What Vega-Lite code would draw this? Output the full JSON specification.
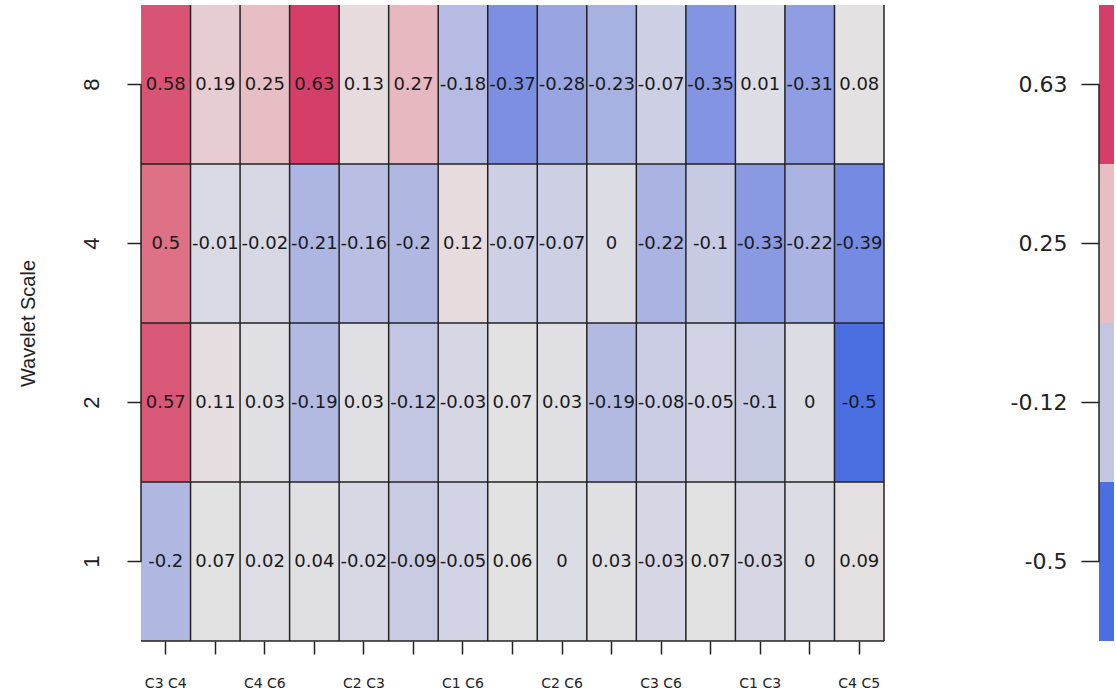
{
  "$schema": "https://vega.github.io/schema/vega-lite/v6.json",
  "autosize": {"type": "pad"},
  "padding": {"left": 18, "top": 4, "right": 0, "bottom": 0},
  "background": "white",
  "config": {"view": {"stroke": null}, "font": "DejaVu Sans", "concat": {"spacing": 125}},
  "datasets": {
    "cells": [
      {"pair": "C3 C4", "scale": "8", "value": 0.58}, {"pair": "C1 C2", "scale": "8", "value": 0.19}, {"pair": "C4 C6", "scale": "8", "value": 0.25}, {"pair": "C1 C4", "scale": "8", "value": 0.63}, {"pair": "C2 C3", "scale": "8", "value": 0.13}, {"pair": "C1 C5", "scale": "8", "value": 0.27}, {"pair": "C1 C6", "scale": "8", "value": -0.18}, {"pair": "C2 C4", "scale": "8", "value": -0.37}, {"pair": "C2 C6", "scale": "8", "value": -0.28}, {"pair": "C2 C5", "scale": "8", "value": -0.23}, {"pair": "C3 C6", "scale": "8", "value": -0.07}, {"pair": "C3 C5", "scale": "8", "value": -0.35}, {"pair": "C1 C3", "scale": "8", "value": 0.01}, {"pair": "C5 C6", "scale": "8", "value": -0.31}, {"pair": "C4 C5", "scale": "8", "value": 0.08},
      {"pair": "C3 C4", "scale": "4", "value": 0.5}, {"pair": "C1 C2", "scale": "4", "value": -0.01}, {"pair": "C4 C6", "scale": "4", "value": -0.02}, {"pair": "C1 C4", "scale": "4", "value": -0.21}, {"pair": "C2 C3", "scale": "4", "value": -0.16}, {"pair": "C1 C5", "scale": "4", "value": -0.2}, {"pair": "C1 C6", "scale": "4", "value": 0.12}, {"pair": "C2 C4", "scale": "4", "value": -0.07}, {"pair": "C2 C6", "scale": "4", "value": -0.07}, {"pair": "C2 C5", "scale": "4", "value": 0}, {"pair": "C3 C6", "scale": "4", "value": -0.22}, {"pair": "C3 C5", "scale": "4", "value": -0.1}, {"pair": "C1 C3", "scale": "4", "value": -0.33}, {"pair": "C5 C6", "scale": "4", "value": -0.22}, {"pair": "C4 C5", "scale": "4", "value": -0.39},
      {"pair": "C3 C4", "scale": "2", "value": 0.57}, {"pair": "C1 C2", "scale": "2", "value": 0.11}, {"pair": "C4 C6", "scale": "2", "value": 0.03}, {"pair": "C1 C4", "scale": "2", "value": -0.19}, {"pair": "C2 C3", "scale": "2", "value": 0.03}, {"pair": "C1 C5", "scale": "2", "value": -0.12}, {"pair": "C1 C6", "scale": "2", "value": -0.03}, {"pair": "C2 C4", "scale": "2", "value": 0.07}, {"pair": "C2 C6", "scale": "2", "value": 0.03}, {"pair": "C2 C5", "scale": "2", "value": -0.19}, {"pair": "C3 C6", "scale": "2", "value": -0.08}, {"pair": "C3 C5", "scale": "2", "value": -0.05}, {"pair": "C1 C3", "scale": "2", "value": -0.1}, {"pair": "C5 C6", "scale": "2", "value": 0}, {"pair": "C4 C5", "scale": "2", "value": -0.5},
      {"pair": "C3 C4", "scale": "1", "value": -0.2}, {"pair": "C1 C2", "scale": "1", "value": 0.07}, {"pair": "C4 C6", "scale": "1", "value": 0.02}, {"pair": "C1 C4", "scale": "1", "value": 0.04}, {"pair": "C2 C3", "scale": "1", "value": -0.02}, {"pair": "C1 C5", "scale": "1", "value": -0.09}, {"pair": "C1 C6", "scale": "1", "value": -0.05}, {"pair": "C2 C4", "scale": "1", "value": 0.06}, {"pair": "C2 C6", "scale": "1", "value": 0}, {"pair": "C2 C5", "scale": "1", "value": 0.03}, {"pair": "C3 C6", "scale": "1", "value": -0.03}, {"pair": "C3 C5", "scale": "1", "value": 0.07}, {"pair": "C1 C3", "scale": "1", "value": -0.03}, {"pair": "C5 C6", "scale": "1", "value": 0}, {"pair": "C4 C5", "scale": "1", "value": 0.09}
    ],
    "key": [
      {"label": "0.63", "value": 0.63}, {"label": "0.25", "value": 0.25}, {"label": "-0.12", "value": -0.12}, {"label": "-0.5", "value": -0.5}
    ]
  },
  "hconcat": [
    {
      "width": 743,
      "height": 636,
      "data": {"name": "cells"},
      "layer": [
        {
          "mark": {"type": "rect"},
          "encoding": {
            "x": {"field": "pair", "type": "nominal", "sort": ["C3 C4","C1 C2","C4 C6","C1 C4","C2 C3","C1 C5","C1 C6","C2 C4","C2 C6","C2 C5","C3 C6","C3 C5","C1 C3","C5 C6","C4 C5"],
              "axis": {"title": null, "labelAngle": 0, "tickSize": 13, "tickWidth": 1.5, "tickColor": "#222", "labelPadding": 22, "labelFontSize": 14, "labelColor": "#222", "domain": false, "grid": false,
                "labelExpr": "indexof(['C3 C4','C4 C6','C2 C3','C1 C6','C2 C6','C3 C6','C1 C3','C4 C5'], datum.value) >= 0 ? datum.value : ''"}},
            "y": {"field": "scale", "type": "ordinal", "sort": ["8","4","2","1"],
              "axis": {"title": "Wavelet Scale", "titleFont": "Liberation Sans", "titleFontSize": 20, "titleFontWeight": "normal", "titleColor": "#222", "titlePadding": 42,
                "labelFont": "Liberation Sans", "labelFontSize": 22, "labelAngle": -90, "labelAlign": "center", "labelBaseline": "bottom", "labelColor": "#222", "labelPadding": 24,
                "tickSize": 14, "tickWidth": 1.5, "tickColor": "#222", "domain": false, "grid": false}},
            "color": {"field": "value", "type": "quantitative", "legend": null,
              "scale": {"domain": [-0.5, -0.37, -0.2, -0.12, 0, 0.065, 0.13, 0.25, 0.5, 0.63],
                "range": ["#4A6FE0", "#7C8FE2", "#B0B8E2", "#C2C6E3", "#DCDCE5", "#E3E3E3", "#E6DBDD", "#E8BEC5", "#DE7186", "#D63E6A"]}}
          }
        },
        {
          "mark": {"type": "text", "fontSize": 18, "color": "#1a1a1a"},
          "encoding": {
            "x": {"field": "pair", "type": "nominal", "sort": ["C3 C4","C1 C2","C4 C6","C1 C4","C2 C3","C1 C5","C1 C6","C2 C4","C2 C6","C2 C5","C3 C6","C3 C5","C1 C3","C5 C6","C4 C5"]},
            "y": {"field": "scale", "type": "ordinal", "sort": ["8","4","2","1"]},
            "text": {"field": "value", "type": "nominal"}
          }
        },
        {
          "transform": [{"filter": "datum.scale == '8'"}],
          "mark": {"type": "rule", "color": "#222", "strokeWidth": 1.5},
          "encoding": {
            "x": {"field": "pair", "type": "nominal", "bandPosition": 1, "sort": ["C3 C4","C1 C2","C4 C6","C1 C4","C2 C3","C1 C5","C1 C6","C2 C4","C2 C6","C2 C5","C3 C6","C3 C5","C1 C3","C5 C6","C4 C5"]}
          }
        },
        {
          "transform": [{"filter": "datum.pair == 'C3 C4'"}],
          "mark": {"type": "rule", "color": "#222", "strokeWidth": 1.5},
          "encoding": {
            "y": {"field": "scale", "type": "ordinal", "bandPosition": 1, "sort": ["8","4","2","1"]}
          }
        },
        {
          "transform": [{"filter": "datum.pair == 'C3 C4' && datum.scale == '8'"}],
          "mark": {"type": "rule", "color": "#222", "strokeWidth": 1.5},
          "encoding": {
            "x": {"datum": "C3 C4", "type": "nominal", "bandPosition": 0},
            "y": {"datum": "8", "type": "ordinal"},
            "y2": {"datum": "1"}
          }
        }
      ]
    },
    {
      "width": 15,
      "height": 636,
      "data": {"name": "key"},
      "layer": [
        {
          "mark": {"type": "rect"},
          "encoding": {
            "x": {"datum": "k", "type": "nominal", "axis": null},
            "y": {"field": "label", "type": "ordinal", "sort": ["0.63","0.25","-0.12","-0.5"],
              "axis": {"title": null, "labelFontSize": 22, "labelColor": "#222", "labelPadding": 14, "tickSize": 18, "tickWidth": 1.5, "tickColor": "#222", "domain": false, "grid": false}},
            "color": {"field": "value", "type": "quantitative", "legend": null}
          }
        },
        {
          "transform": [{"filter": "datum.label == '0.63'"}],
          "mark": {"type": "rule", "color": "#222", "strokeWidth": 1.5},
          "encoding": {
            "x": {"datum": "k", "type": "nominal", "bandPosition": 0},
            "y": {"datum": "0.63", "type": "ordinal"},
            "y2": {"datum": "-0.5"}
          }
        }
      ]
    }
  ]
}
